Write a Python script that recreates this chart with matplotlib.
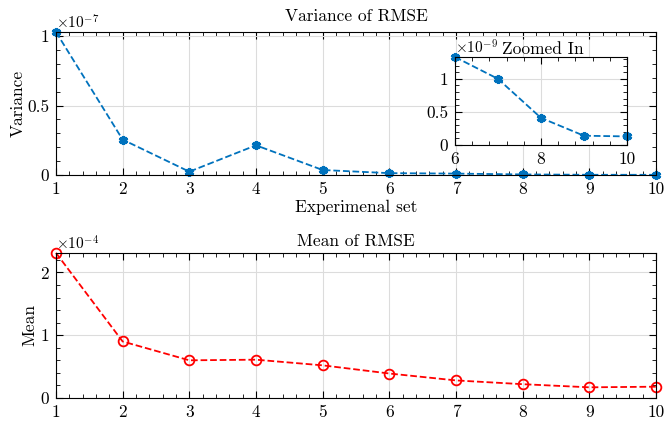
import numpy as np
import matplotlib
matplotlib.use("Agg")
from matplotlib import pyplot as plt
from matplotlib.ticker import AutoMinorLocator, FuncFormatter

plt.rcParams['font.family'] = 'serif'
plt.rcParams['font.serif'] = ['cmr10']
plt.rcParams['mathtext.fontset'] = 'cm'
plt.rcParams['axes.unicode_minus'] = False

# data
sets = [1, 2, 3, 4, 5, 6, 7, 8, 9, 10]
variance = [1.03e-7, 0.255e-7, 0.024e-7, 0.214e-7, 0.036e-7,
            1.33e-9, 1.0e-9, 0.41e-9, 0.14e-9, 0.13e-9]
mean = [2.31e-4, 0.90e-4, 0.60e-4, 0.61e-4, 0.52e-4,
        0.39e-4, 0.28e-4, 0.22e-4, 0.17e-4, 0.18e-4]
zoom_from = 6

blue = '#0072BD'
red = '#FF0000'


def style_axes(ax, scale, label_size=12.5):
    ax.tick_params(which='both', direction='in', top=True, right=True,
                   labelsize=label_size, pad=5)
    ax.tick_params(which='major', length=5, width=0.8)
    ax.tick_params(which='minor', length=3, width=0.6)
    ax.xaxis.set_minor_locator(AutoMinorLocator(5))
    ax.yaxis.set_minor_locator(AutoMinorLocator(5))
    ax.yaxis.set_major_formatter(FuncFormatter(lambda v, p: f"{v / scale:g}"))
    ax.grid(True, which='major', color='#dcdcdc', linewidth=0.8)
    ax.set_axisbelow(True)
    for s in ax.spines.values():
        s.set_linewidth(0.8)


def offset_label(ax, exp, size=11):
    ax.text(0.0, 1.0, r'$\times 10^{%d}$' % exp, transform=ax.transAxes,
            ha='left', va='bottom', fontsize=size)


fig = plt.figure(figsize=(6.64, 4.23), dpi=100)

# variance of RMSE
ax1 = fig.add_axes([0.0843, 0.5863, 0.9036, 0.338])
ax1.plot(sets, variance, '--', color=blue, linewidth=1.3,
         marker=(6, 2, 0), markersize=6.5, markeredgewidth=2.3)
ax1.set_xlim(1, 10)
ax1.set_ylim(0, max(variance))
ax1.set_xticks(sets)
ax1.set_yticks([0, 0.5e-7, 1e-7])
style_axes(ax1, 1e-7)
offset_label(ax1, -7)
ax1.set_title('Variance of RMSE', fontsize=12.5, pad=8)
ax1.set_xlabel('Experimenal set', fontsize=12.5, labelpad=2)
ax1.set_ylabel('Variance', fontsize=12.5, labelpad=1)

# zoomed inset
ax_in = fig.add_axes([0.6852, 0.6572, 0.259, 0.208])
ax_in.plot(sets[zoom_from - 1:], variance[zoom_from - 1:], '--', color=blue,
           linewidth=1.3, marker=(6, 2, 0), markersize=6.5, markeredgewidth=2.3)
ax_in.set_xlim(6, 10)
ax_in.set_ylim(0, max(variance[zoom_from - 1:]))
ax_in.set_xticks([6, 8, 10])
ax_in.set_yticks([0, 0.5e-9, 1e-9])
style_axes(ax_in, 1e-9)
ax_in.set_facecolor('white')
offset_label(ax_in, -9)
ax_in.set_title('Zoomed In', fontsize=12.5, pad=2, x=0.51)

# mean of RMSE
ax2 = fig.add_axes([0.0843, 0.0591, 0.9036, 0.343])
ax2.plot(sets, mean, '--', color=red, linewidth=1.3, marker='o',
         markersize=7, markerfacecolor='none', markeredgewidth=1.3)
ax2.set_xlim(1, 10)
ax2.set_ylim(0, max(mean))
ax2.set_xticks(sets)
ax2.set_yticks([0, 1e-4, 2e-4])
style_axes(ax2, 1e-4)
offset_label(ax2, -4)
ax2.set_title('Mean of RMSE', fontsize=12.5, pad=5)
ax2.set_ylabel('Mean', fontsize=12.5, labelpad=2)

for ax in (ax1, ax_in, ax2):
    for line in ax.lines:
        line.set_clip_on(False)

fig.savefig('out.png', dpi=100)
